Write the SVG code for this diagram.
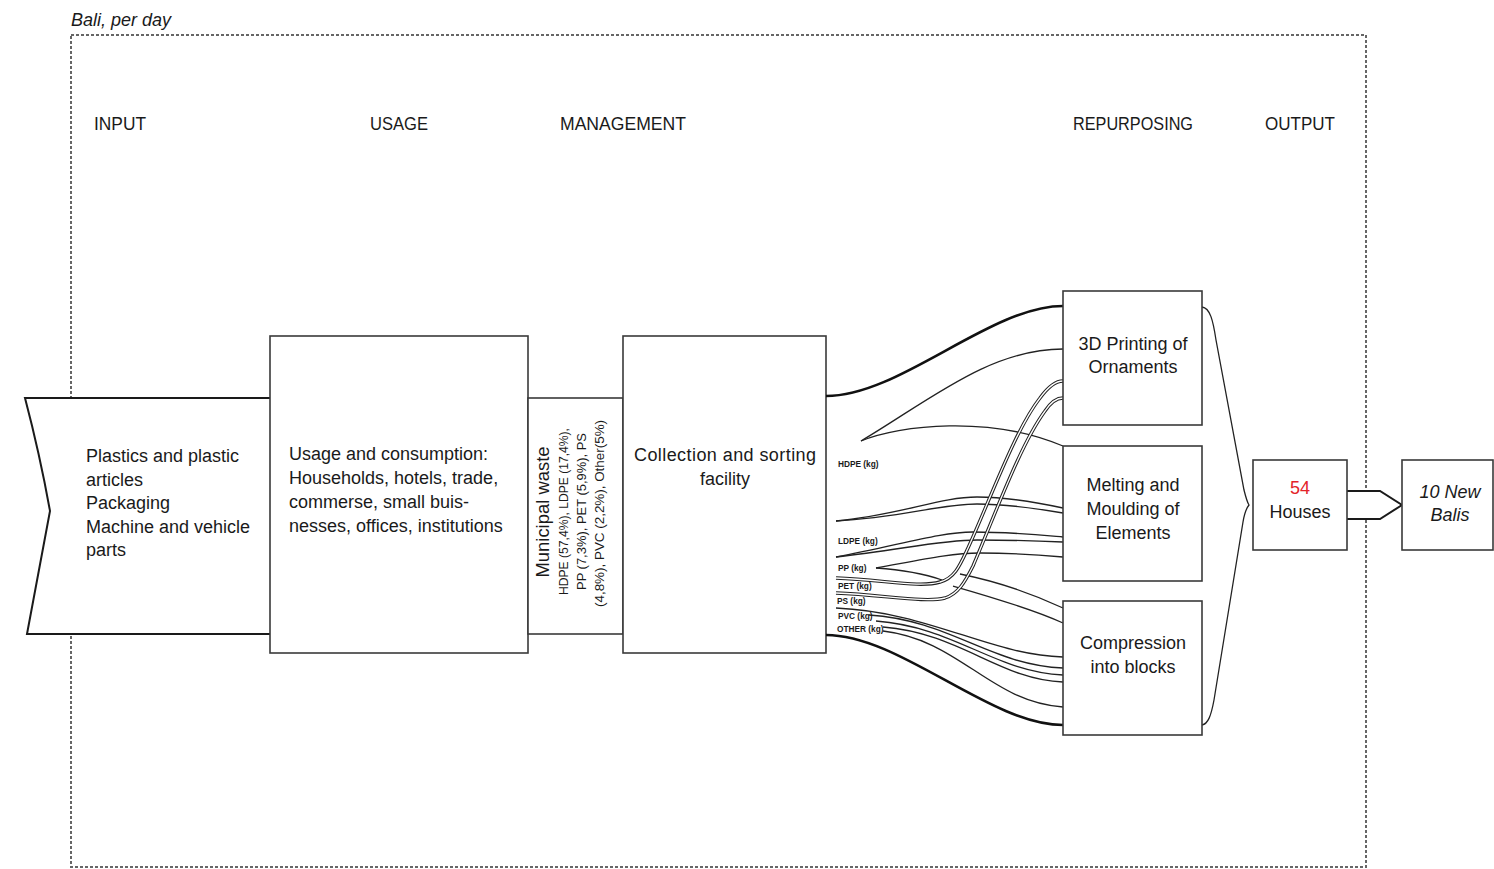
<svg xmlns="http://www.w3.org/2000/svg" xmlns:xlink="http://www.w3.org/1999/xlink" width="1494" height="869" viewBox="0 0 1494 869">
<style>
  .t{font-family:"Liberation Sans",Arial,sans-serif;font-size:18px;fill:#1a1a1a}
  .h{font-family:"Liberation Sans",Arial,sans-serif;font-size:17.5px;fill:#1a1a1a}
  .s{font-family:"Liberation Sans",Arial,sans-serif;font-size:12.5px;fill:#1a1a1a}
  .k{font-family:"Liberation Sans",Arial,sans-serif;font-size:8.3px;font-weight:bold;fill:#1a1a1a}
  .it{font-style:italic}
  .c{text-anchor:middle}
  .box{fill:#fff;stroke:#3a3a3a;stroke-width:1.6}
  .frame{fill:none;stroke:#666;stroke-width:2;stroke-dasharray:3 2}
  .fl{fill:none;stroke:#222;stroke-width:1.3}
  .thick{fill:none;stroke:#111;stroke-width:2.6}
  .tubeo{fill:none;stroke:#222;stroke-width:3.4}
  .tubei{fill:none;stroke:#fff;stroke-width:1.3}
  .edge{fill:#fff;stroke:#1a1a1a;stroke-width:2}
</style>
<defs>
  <path id="tube1" d="M836,578 C885,580 920,588 940,582 C955,578 960,565 968,548 C990,500 1015,430 1040,398 C1048,387 1055,381 1063,381"/>
  <path id="tube2" d="M836,593 C885,595 925,603 945,598 C958,594 965,582 973,566 C995,515 1020,445 1045,411 C1051,402 1056,398 1063,398"/>
</defs>
<rect width="1494" height="869" fill="#fff"/>

<g id="frame">
  <rect class="frame" x="71" y="35" width="1295" height="832"/>
  <text class="t it" x="71" y="26" font-size="17">Bali, per day</text>
</g>

<g id="headers">
  <text class="h" x="94" y="130" textLength="52" lengthAdjust="spacingAndGlyphs">INPUT</text>
  <text class="h" x="370" y="130" textLength="58" lengthAdjust="spacingAndGlyphs">USAGE</text>
  <text class="h" x="560" y="130" textLength="126" lengthAdjust="spacingAndGlyphs">MANAGEMENT</text>
  <text class="h" x="1073" y="130" textLength="120" lengthAdjust="spacingAndGlyphs">REPURPOSING</text>
  <text class="h" x="1265" y="130" textLength="70" lengthAdjust="spacingAndGlyphs">OUTPUT</text>
</g>

<g id="input">
  <path class="edge" d="M270,398 L25,398 Q40,455 50,511 Q38,575 27,634 L270,634"/>
  <text class="t" x="86" y="462">Plastics and plastic</text>
  <text class="t" x="86" y="485.5">articles</text>
  <text class="t" x="86" y="509">Packaging</text>
  <text class="t" x="86" y="532.5">Machine and vehicle</text>
  <text class="t" x="86" y="556">parts</text>
</g>

<g id="usage">
  <rect class="box" x="270" y="336" width="258" height="317"/>
  <text class="t" x="289" y="460">Usage and consumption:</text>
  <text class="t" x="289" y="484">Households, hotels, trade,</text>
  <text class="t" x="289" y="508">commerse, small buis-</text>
  <text class="t" x="289" y="532">nesses, offices, institutions</text>
</g>

<g id="municipal-waste">
  <rect class="box" x="528" y="398" width="95" height="236"/>
  <text class="t c" transform="translate(549,512) rotate(-90)" textLength="131" lengthAdjust="spacingAndGlyphs">Municipal waste</text>
  <text class="s c" transform="translate(568,511.5) rotate(-90)" textLength="167" lengthAdjust="spacingAndGlyphs">HDPE (57,4%), LDPE (17,4%),</text>
  <text class="s c" transform="translate(586,511.5) rotate(-90)" textLength="157" lengthAdjust="spacingAndGlyphs">PP (7,3%), PET (5,9%), PS</text>
  <text class="s c" transform="translate(604,513.5) rotate(-90)" textLength="187" lengthAdjust="spacingAndGlyphs">(4,8%), PVC (2,2%), Other(5%)</text>
</g>

<g id="management">
  <rect class="box" x="623" y="336" width="203" height="317"/>
  <text class="t c" x="725" y="461" textLength="182" lengthAdjust="spacing">Collection and sorting</text>
  <text class="t c" x="725" y="485">facility</text>
</g>

<g id="connectors">
  <!-- to 3D printing -->
  <path class="thick" d="M826,396 C900,396 990,306 1063,306"/>
  <path class="fl" d="M861,441 C930,400 990,349 1063,349"/>
  <!-- to melting -->
  <path class="fl" d="M861,441 C900,425 990,415 1063,446"/>
  <path class="fl" d="M836,521 C900,515 940,497 977,497 C1010,497 1040,503 1063,508"/>
  <path class="fl" d="M836,521 C900,518 940,504 977,504 C1010,504 1040,509 1063,513"/>
  <path class="fl" d="M836,557 C900,545 940,532 973,532 C1010,532 1040,535 1063,537"/>
  <path class="fl" d="M836,557 C900,550 940,540 977,540 C1010,540 1040,541 1063,542"/>
  <path class="fl" d="M876,568 C920,560 950,553 980,553 C1010,553 1040,555 1063,557"/>
  <!-- to compression -->
  <path class="fl" d="M876,568 C905,570 925,574 942,580"/>
  <path class="fl" d="M960,574 C1000,582 1035,595 1063,608"/>
  <path class="fl" d="M953,586 C995,598 1035,610 1063,623"/>
  <path class="fl" d="M836,608 C930,612 990,655 1063,657"/>
  <path class="fl" d="M869,615 C950,620 990,665 1063,668"/>
  <path class="fl" d="M876,621 C955,627 995,672 1063,675"/>
  <path class="fl" d="M883,627 C960,633 1000,680 1063,682"/>
  <path class="fl" d="M883,631 C960,640 990,702 1063,707"/>
  <path class="thick" d="M826,635 C900,635 990,725 1063,725"/>
  <!-- tube from PET / PS to 3D printing -->
  <use xlink:href="#tube1" class="tubeo"/>
  <use xlink:href="#tube1" class="tubei"/>
  <use xlink:href="#tube2" class="tubeo"/>
  <use xlink:href="#tube2" class="tubei"/>
  <!-- bracket to output -->
  <path class="fl" stroke-width="2" d="M1202,307 C1210,308 1213,320 1216,340 L1244,490 Q1247,502 1249,505 Q1245,510 1243,522 L1214,700 C1211,716 1208,724 1202,725"/>
  <!-- arrow houses to balis -->
  <path class="edge" d="M1347,491 L1380,491 L1402,505 L1380,519 L1347,519"/>
</g>

<g id="flow-labels">
  <text class="k" x="838" y="467">HDPE (kg)</text>
  <text class="k" x="838" y="544">LDPE (kg)</text>
  <text class="k" x="838" y="571">PP (kg)</text>
  <text class="k" x="838" y="589">PET (kg)</text>
  <text class="k" x="837" y="604">PS (kg)</text>
  <text class="k" x="838" y="619">PVC (kg)</text>
  <text class="k" x="837" y="632">OTHER (kg)</text>
</g>

<g id="printing">
  <rect class="box" x="1063" y="291" width="139" height="134"/>
  <text class="t c" x="1133" y="350">3D Printing of</text>
  <text class="t c" x="1133" y="373">Ornaments</text>
</g>

<g id="melting">
  <rect class="box" x="1063" y="446" width="139" height="135"/>
  <text class="t c" x="1133" y="491">Melting and</text>
  <text class="t c" x="1133" y="515">Moulding of</text>
  <text class="t c" x="1133" y="539">Elements</text>
</g>

<g id="compression">
  <rect class="box" x="1063" y="601" width="139" height="134"/>
  <text class="t c" x="1133" y="649">Compression</text>
  <text class="t c" x="1133" y="673">into blocks</text>
</g>

<g id="houses">
  <rect class="box" x="1253" y="460" width="94" height="90"/>
  <text class="t c" x="1300" y="494" style="fill:#e3232a">54</text>
  <text class="t c" x="1300" y="518">Houses</text>
</g>

<g id="balis">
  <rect class="box" x="1402" y="460" width="91" height="90"/>
  <text class="t c it" x="1450" y="498">10 New</text>
  <text class="t c it" x="1450" y="521">Balis</text>
</g>
</svg>
